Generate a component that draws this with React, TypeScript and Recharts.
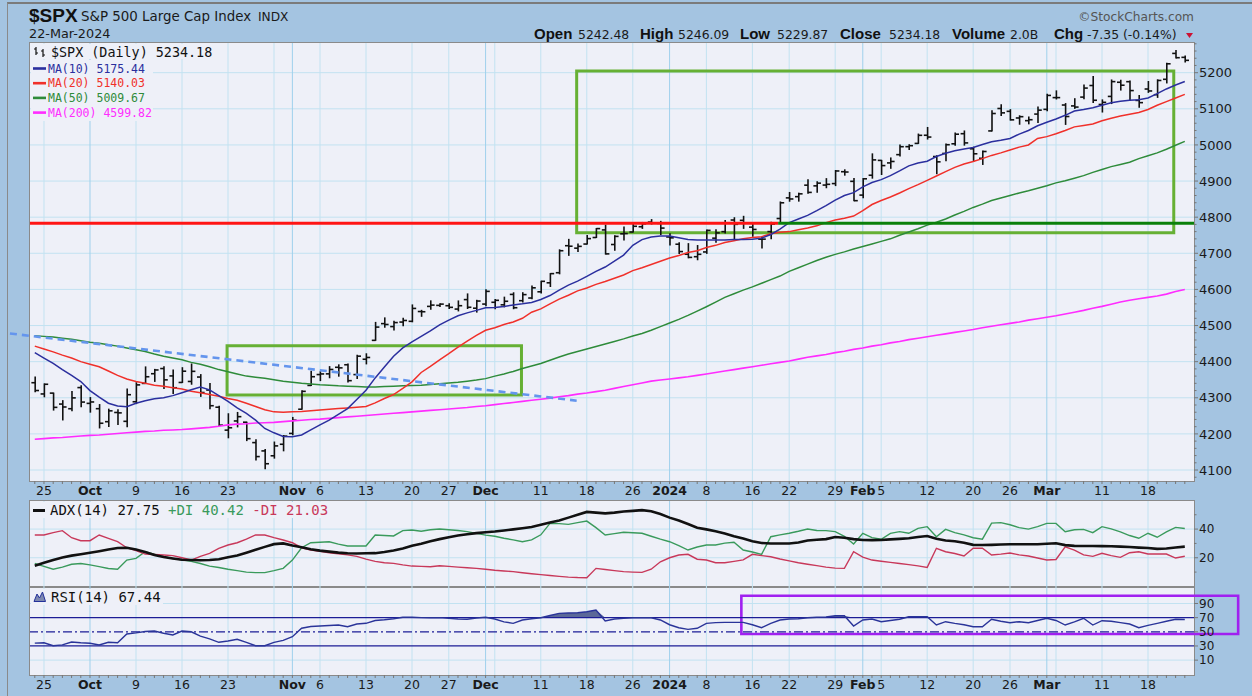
import React from 'react';
import {
  ComposedChart,
  Bar,
  Line,
  Area,
  XAxis,
  YAxis,
  CartesianGrid,
  ReferenceLine,
  ReferenceArea,
} from 'recharts';

// trading days per month
const sep2023 = [22, 25, 26, 27, 28, 29];
const oct2023 = [2, 3, 4, 5, 6, 9, 10, 11, 12, 13, 16, 17, 18, 19, 20, 23, 24, 25, 26, 27, 30, 31];
const nov2023 = [1, 2, 3, 6, 7, 8, 9, 10, 13, 14, 15, 16, 17, 20, 21, 22, 24, 27, 28, 29, 30];
const dec2023 = [1, 4, 5, 6, 7, 8, 11, 12, 13, 14, 15, 18, 19, 20, 21, 22, 26, 27, 28, 29];
const jan2024 = [2, 3, 4, 5, 8, 9, 10, 11, 12, 16, 17, 18, 19, 22, 23, 24, 25, 26, 29, 30, 31];
const feb2024 = [1, 2, 5, 6, 7, 8, 9, 12, 13, 14, 15, 16, 20, 21, 22, 23, 26, 27, 28, 29];
const mar2024 = [1, 4, 5, 6, 7, 8, 11, 12, 13, 14, 15, 18, 19, 20, 21, 22];

const months: [string, number[]][] = [
  ['2023-09', sep2023],
  ['2023-10', oct2023],
  ['2023-11', nov2023],
  ['2023-12', dec2023],
  ['2024-01', jan2024],
  ['2024-02', feb2024],
  ['2024-03', mar2024],
];
const dates = months.flatMap(([ym, days]) => days.map((d) => `${ym}-${String(d).padStart(2, '0')}`));

const xTickLabels: [string, string][] = [
  ['2023-09-25', '25'], ['2023-10-02', 'Oct'], ['2023-10-09', '9'], ['2023-10-16', '16'], ['2023-10-23', '23'],
  ['2023-11-01', 'Nov'], ['2023-11-06', '6'], ['2023-11-13', '13'], ['2023-11-20', '20'], ['2023-11-27', '27'],
  ['2023-12-01', 'Dec'], ['2023-12-11', '11'], ['2023-12-18', '18'], ['2023-12-26', '26'],
  ['2024-01-02', '2024'], ['2024-01-08', '8'], ['2024-01-16', '16'], ['2024-01-22', '22'], ['2024-01-29', '29'],
  ['2024-02-01', 'Feb'], ['2024-02-05', '5'], ['2024-02-12', '12'], ['2024-02-20', '20'], ['2024-02-26', '26'],
  ['2024-03-01', 'Mar'], ['2024-03-11', '11'], ['2024-03-18', '18'],
];

const openPx = [
  4341.7, 4310.6, 4312.9, 4282.6, 4269.7, 4328.2, 4284.5, 4269.8, 4233.8, 4259.3,
  4234.8, 4289.0, 4339.8, 4366.6, 4380.9, 4360.5, 4342.4, 4345.2, 4357.4, 4321.4,
  4273.9, 4210.4, 4235.8, 4232.4, 4175.9, 4152.9, 4139.4, 4171.3, 4201.3, 4268.3,
  4334.2, 4364.3, 4366.2, 4384.4, 4391.4, 4364.2, 4406.7, 4459.0, 4505.3, 4497.1,
  4509.6, 4511.7, 4538.8, 4553.0, 4555.8, 4554.9, 4545.6, 4571.8, 4548.0, 4559.4,
  4564.4, 4557.3, 4586.2, 4568.8, 4576.2, 4593.4, 4618.3, 4646.2, 4721.0, 4714.2,
  4725.6, 4743.7, 4764.7, 4724.3, 4753.9, 4758.9, 4773.5, 4786.4, 4782.9, 4745.2,
  4725.1, 4697.4, 4690.6, 4703.7, 4741.9, 4759.9, 4792.1, 4791.2, 4772.4, 4739.1,
  4760.1, 4796.3, 4853.4, 4856.8, 4888.6, 4886.7, 4888.9, 4893.0, 4925.9, 4899.2,
  4861.1, 4916.1, 4957.2, 4950.2, 4973.1, 4995.2, 5004.2, 5026.8, 4967.9, 4976.4,
  5003.1, 5031.1, 4989.3, 4963.0, 5038.8, 5100.9, 5093.0, 5074.6, 5067.2, 5085.4,
  5098.5, 5131.0, 5110.5, 5108.0, 5132.4, 5164.5, 5112.0, 5134.3, 5173.5, 5175.1,
  5123.3, 5154.8, 5139.1, 5181.7, 5253.4, 5242.5,
];
const highPx = [
  4357.4, 4338.5, 4313.0, 4292.1, 4317.3, 4333.1, 4300.6, 4281.2, 4268.5, 4267.1,
  4324.1, 4341.7, 4385.5, 4378.6, 4385.9, 4377.1, 4383.3, 4393.6, 4364.2, 4339.5,
  4276.6, 4255.8, 4259.4, 4232.4, 4183.6, 4156.7, 4177.5, 4195.6, 4245.6, 4319.7,
  4373.6, 4372.2, 4386.3, 4391.2, 4393.4, 4418.0, 4421.8, 4508.7, 4521.2, 4512.0,
  4520.1, 4557.1, 4542.1, 4568.4, 4560.3, 4560.5, 4568.1, 4587.6, 4569.9, 4599.4,
  4572.4, 4578.6, 4590.7, 4590.9, 4609.2, 4622.7, 4643.9, 4709.7, 4738.6, 4725.5,
  4749.5, 4768.7, 4778.0, 4748.7, 4772.9, 4784.7, 4785.4, 4793.3, 4788.4, 4754.3,
  4729.3, 4726.8, 4721.5, 4764.5, 4765.5, 4790.8, 4798.5, 4802.4, 4782.3, 4744.2,
  4785.8, 4842.1, 4868.4, 4866.5, 4903.7, 4898.1, 4906.7, 4929.3, 4931.1, 4906.8,
  4907.0, 4975.3, 4957.2, 4964.0, 4999.9, 5000.4, 5030.1, 5048.4, 4970.0, 5002.5,
  5032.7, 5038.7, 4993.7, 4983.2, 5094.4, 5111.1, 5097.7, 5080.7, 5077.4, 5105.0,
  5140.3, 5149.7, 5114.5, 5128.0, 5165.6, 5189.3, 5124.7, 5179.9, 5179.1, 5176.9,
  5136.9, 5175.6, 5180.3, 5226.2, 5261.1, 5246.1,
];
const lowPx = [
  4316.5, 4302.7, 4265.9, 4238.6, 4264.4, 4274.9, 4260.2, 4216.5, 4220.5, 4225.9,
  4219.6, 4283.8, 4339.6, 4345.3, 4325.4, 4311.9, 4342.4, 4337.5, 4303.8, 4269.7,
  4223.0, 4189.2, 4219.4, 4181.4, 4127.9, 4103.8, 4132.9, 4153.1, 4197.7, 4268.3,
  4334.2, 4347.5, 4355.4, 4359.8, 4343.9, 4353.3, 4393.8, 4459.0, 4495.3, 4487.8,
  4499.7, 4510.4, 4525.5, 4545.1, 4552.8, 4547.0, 4540.5, 4547.2, 4537.2, 4554.7,
  4546.7, 4551.7, 4546.5, 4565.2, 4574.1, 4590.3, 4608.1, 4643.2, 4694.3, 4704.7,
  4725.6, 4743.7, 4697.8, 4708.4, 4736.8, 4758.9, 4768.9, 4781.0, 4752.0, 4722.7,
  4699.7, 4687.5, 4682.1, 4699.8, 4730.4, 4756.2, 4739.6, 4769.0, 4747.1, 4714.8,
  4740.6, 4785.9, 4844.1, 4844.4, 4865.9, 4869.3, 4881.5, 4887.4, 4916.3, 4845.2,
  4853.5, 4908.0, 4918.1, 4935.3, 4969.3, 4987.1, 5004.2, 5016.3, 4920.3, 4956.5,
  4999.4, 4999.5, 4955.0, 4946.0, 5038.8, 5081.5, 5068.9, 5057.3, 5058.4, 5061.9,
  5094.4, 5127.2, 5056.8, 5101.2, 5128.2, 5117.5, 5091.1, 5114.5, 5151.9, 5123.3,
  5104.4, 5145.5, 5131.6, 5171.6, 5240.7, 5229.9,
];
const closePx = [
  4320.1, 4337.4, 4273.5, 4274.5, 4299.7, 4288.1, 4288.4, 4229.5, 4263.8, 4258.2,
  4308.5, 4335.7, 4358.2, 4377.0, 4349.6, 4327.8, 4373.6, 4373.2, 4314.6, 4278.0,
  4224.2, 4217.0, 4247.7, 4186.8, 4137.2, 4117.4, 4166.8, 4193.8, 4237.9, 4317.8,
  4358.3, 4366.0, 4378.4, 4382.8, 4347.4, 4415.2, 4411.6, 4495.7, 4502.9, 4508.2,
  4514.0, 4547.4, 4538.2, 4556.6, 4559.3, 4550.4, 4554.9, 4550.6, 4567.8, 4594.6,
  4569.8, 4567.2, 4549.3, 4585.6, 4604.4, 4622.4, 4643.7, 4707.1, 4719.6, 4719.2,
  4740.6, 4768.4, 4698.4, 4746.8, 4754.6, 4774.8, 4781.6, 4783.4, 4769.8, 4742.8,
  4704.8, 4688.7, 4697.2, 4763.5, 4756.5, 4783.5, 4780.2, 4783.8, 4766.0, 4739.2,
  4780.9, 4839.8, 4850.4, 4864.6, 4868.6, 4894.2, 4891.0, 4927.9, 4925.0, 4845.7,
  4906.2, 4958.6, 4942.8, 4954.2, 4995.1, 4997.9, 5026.6, 5021.8, 4953.2, 5000.6,
  5029.7, 5005.6, 4975.5, 4981.8, 5087.0, 5088.8, 5069.5, 5078.2, 5069.8, 5096.3,
  5137.1, 5131.0, 5078.7, 5104.8, 5157.4, 5123.7, 5117.9, 5175.3, 5165.3, 5150.5,
  5117.1, 5149.4, 5178.5, 5224.6, 5241.5, 5234.2,
];

const ma10 = [
  4425, 4410, 4395, 4378, 4362, 4345, 4320, 4302, 4285, 4277,
  4275, 4285, 4292, 4297, 4300, 4306, 4314, 4322, 4330, 4322,
  4306, 4290, 4272, 4257, 4238, 4215, 4203, 4193, 4192, 4197,
  4211, 4225, 4238, 4254, 4270, 4295, 4321, 4355, 4385, 4415,
  4438, 4455, 4470, 4485, 4502, 4515, 4527, 4535, 4542, 4549,
  4550, 4553, 4557, 4560, 4564, 4572, 4583, 4598, 4612, 4623,
  4636, 4650, 4662, 4678, 4695, 4722, 4738, 4745, 4748, 4748,
  4743, 4738, 4737, 4737, 4737, 4737, 4738, 4738, 4739, 4742,
  4752, 4767, 4785, 4795, 4805, 4818, 4832, 4847, 4860, 4868,
  4884, 4896, 4904, 4915, 4928, 4942, 4950, 4955, 4968, 4977,
  4984, 4989, 4993, 5001, 5009, 5013, 5018, 5030, 5040, 5053,
  5063, 5072, 5082, 5094, 5098, 5103, 5110, 5117, 5121, 5124,
  5125, 5130, 5142, 5155, 5166, 5175.4,
];
const ma20 = [
  4443, 4435, 4427, 4418, 4410, 4400, 4393, 4386, 4374, 4362,
  4352, 4345, 4340, 4335, 4332, 4328, 4324, 4318, 4314, 4309,
  4304, 4298, 4293, 4285, 4276, 4267, 4261, 4260, 4261, 4262,
  4264, 4266, 4268, 4270, 4272, 4274, 4276, 4286, 4298, 4309,
  4326, 4344, 4370, 4387, 4405, 4422, 4440, 4457, 4473, 4487,
  4494, 4503, 4510, 4520, 4537, 4546, 4560, 4573, 4584, 4596,
  4604, 4614, 4622, 4631, 4640, 4652, 4660, 4669, 4678, 4687,
  4694, 4702, 4707, 4716, 4722, 4730, 4735, 4740, 4744, 4746,
  4754, 4758, 4760, 4765, 4770, 4776, 4785, 4792, 4797, 4803,
  4818, 4835, 4846, 4856, 4867, 4879, 4890, 4902, 4914, 4926,
  4938, 4947, 4954, 4962, 4971, 4978, 4986, 4994, 5000, 5018,
  5023, 5031, 5040, 5050, 5054, 5058, 5067, 5074, 5080, 5085,
  5090, 5098, 5110, 5120, 5130, 5140.0,
];
const ma50 = [
  4472, 4470, 4468, 4465, 4462, 4458, 4454, 4451, 4447, 4443,
  4438, 4433, 4428, 4421, 4415, 4410, 4405, 4398, 4393, 4386,
  4378, 4372, 4366, 4360, 4357, 4354, 4350, 4346, 4343, 4340,
  4338, 4336, 4335, 4333, 4332, 4331, 4330, 4330, 4331, 4332,
  4333, 4334, 4335, 4337, 4339, 4341, 4343, 4346, 4349, 4353,
  4360, 4366, 4373, 4381, 4388, 4395, 4404, 4413, 4421, 4428,
  4435, 4442, 4449, 4456, 4463, 4471, 4478, 4487, 4497, 4507,
  4517, 4528, 4540, 4552, 4565, 4578, 4588, 4598, 4607, 4617,
  4627, 4637, 4650, 4660, 4670, 4680, 4689, 4697, 4704, 4712,
  4719, 4726, 4733, 4740, 4750, 4759, 4768, 4778, 4786, 4795,
  4806, 4816, 4827, 4836, 4846, 4853, 4860, 4867, 4873, 4880,
  4887, 4895, 4901, 4908, 4915, 4924, 4932, 4940, 4946, 4952,
  4962, 4970, 4978, 4988, 4999, 5009.7,
];
const ma200 = [
  4185, 4187, 4189, 4190, 4192, 4194, 4196, 4197, 4199, 4201,
  4203, 4205, 4207, 4208, 4210, 4211, 4212, 4214, 4216, 4218,
  4221, 4225, 4227, 4228, 4230, 4231, 4232, 4234, 4236, 4238,
  4240, 4241, 4243, 4245, 4247, 4249, 4251, 4253, 4255, 4257,
  4259, 4261, 4263, 4265, 4267, 4269, 4271, 4273, 4276, 4278,
  4281, 4284, 4287, 4290, 4293, 4296, 4299, 4303, 4306, 4310,
  4313, 4317, 4321, 4326, 4331, 4336, 4341, 4346, 4349, 4352,
  4355, 4358, 4362, 4366, 4370, 4374, 4378, 4382, 4386, 4390,
  4394, 4398, 4402, 4407, 4412, 4416, 4420, 4425, 4429, 4434,
  4438, 4443, 4447, 4452, 4456, 4461, 4465, 4469, 4473, 4477,
  4481, 4485, 4489, 4494, 4498, 4502, 4506, 4510, 4515, 4519,
  4523, 4527, 4532, 4537, 4542, 4548, 4553, 4559, 4565, 4570,
  4574, 4578, 4582, 4587, 4594, 4599.8,
];

const adx14 = [
  14.5, 16.5, 18.5, 20.2, 21.5, 22.5, 23.5, 24.6, 25.8, 26.8,
  27.0, 25.8, 24.0, 22.0, 20.5, 19.5, 18.6, 18.4, 18.3, 18.4,
  19.0, 20.3, 21.5, 23.5, 25.6, 27.6, 29.5, 30.0, 28.5, 27.3,
  26.0, 25.0, 24.3, 23.6, 23.1, 23.0, 23.1, 23.2, 24.0, 25.0,
  26.5, 28.4, 29.8, 31.5, 33.0, 34.3, 35.5, 36.4, 37.2, 37.8,
  38.3, 39.0, 39.8, 40.6, 41.5, 43.0, 44.6, 46.0, 48.0, 50.0,
  52.0, 51.5, 51.0, 51.5, 52.3, 52.7, 53.2, 52.5, 50.5, 48.0,
  46.0, 43.5, 41.0, 39.8, 38.5, 37.0, 35.0, 33.5, 31.5, 30.3,
  30.0, 30.0, 30.0, 30.6, 32.0, 32.6, 33.0, 34.5, 34.0, 33.0,
  32.4, 32.3, 32.4, 32.8, 33.2, 33.6, 34.5, 35.2, 33.3, 32.0,
  31.5, 30.5, 29.0, 28.9, 29.0, 29.2, 29.4, 29.4, 29.4, 29.4,
  29.8, 30.1, 28.8, 28.3, 28.2, 28.2, 28.1, 28.0, 27.8, 27.5,
  27.1, 26.8, 26.2, 26.5, 27.2, 27.75,
];
const plusDi = [
  16.0, 14.0, 12.0, 13.5, 15.5, 16.0, 15.0, 13.8, 12.5, 12.0,
  18.4, 19.6, 24.2, 22.5, 20.7, 19.5, 18.5, 17.5, 16.0, 14.2,
  13.2, 12.0, 11.0, 10.0, 9.6, 9.6, 11.0, 12.6, 18.4, 27.0,
  30.5, 30.8, 31.2, 29.5, 28.2, 28.2, 28.2, 35.9, 35.5, 35.2,
  38.9, 39.4, 38.5, 39.5, 40.1, 39.5, 39.0, 38.2, 37.0, 35.8,
  35.0, 33.6, 32.5, 31.2, 32.5, 36.0, 44.0, 43.8, 43.3, 44.5,
  45.6, 41.0, 35.9, 36.8, 37.8, 37.5, 37.1, 35.0, 33.0, 31.2,
  28.5, 25.4, 27.5, 28.9, 28.9, 30.2, 30.8, 25.4, 24.0, 22.4,
  34.7, 36.0, 37.1, 38.5, 40.1, 39.0, 38.9, 38.2, 35.0, 29.6,
  37.1, 34.0, 32.9, 37.0, 38.2, 37.1, 40.5, 41.7, 34.7, 39.8,
  37.5, 36.0, 34.0, 33.0, 44.2, 44.5, 43.0, 41.0, 40.0, 41.7,
  44.0, 44.0, 38.2, 39.5, 39.8, 37.5, 41.7, 40.2, 38.0, 35.5,
  33.6, 37.1, 34.3, 38.0, 41.2, 40.42,
];
const minusDi = [
  35.9, 35.9, 37.5, 38.9, 34.0, 31.9, 31.9, 35.9, 33.5, 31.2,
  27.0, 25.0, 22.6, 22.3, 21.9, 21.5, 20.0, 18.4, 21.0, 23.1,
  26.5, 28.9, 30.5, 33.0, 35.9, 35.9, 34.0, 32.4, 30.5, 27.0,
  25.4, 24.5, 23.5, 22.8, 22.0, 21.0, 19.0, 17.5, 16.5, 16.1,
  15.0, 14.2, 14.0, 13.7, 14.4, 14.0, 13.5, 13.0, 12.6, 12.0,
  11.3, 10.8, 10.3, 9.5, 8.8, 8.2, 7.6, 7.0, 6.5, 6.2,
  6.1, 12.6, 11.8, 11.0, 10.3, 10.0, 9.8, 12.0, 17.2, 20.0,
  21.9, 22.4, 19.0, 18.4, 16.5, 16.5, 17.5, 18.5, 22.4, 21.5,
  20.7, 19.1, 17.8, 16.5, 15.5, 14.5, 13.5, 12.8, 12.6, 24.2,
  20.5, 18.4, 17.6, 16.8, 16.0, 15.2, 14.3, 13.3, 26.6, 24.2,
  23.0, 21.2, 26.6, 26.6, 21.9, 22.5, 23.3, 22.0, 21.2, 19.8,
  18.4, 18.8, 27.7, 25.4, 22.0, 21.0, 23.1, 21.5, 20.3, 23.5,
  24.2, 22.6, 22.6, 22.6, 19.8, 21.03,
];
const rsi14 = [
  34.0, 34.6, 30.4, 31.5, 35.6, 34.5, 33.8, 31.4, 35.2, 34.5,
  46.9, 48.5, 50.5, 51.1, 48.0, 45.5, 51.1, 50.1, 44.0, 40.0,
  35.2, 37.0, 39.4, 35.0, 30.4, 30.4, 35.0, 38.0, 43.1, 55.0,
  57.5, 58.2, 59.0, 59.6, 57.2, 61.0, 62.0, 66.0, 67.0, 68.5,
  70.5, 70.5, 70.0, 69.9, 70.0, 69.0, 68.0, 67.7, 69.5, 70.5,
  68.1, 64.0, 62.0, 66.7, 68.5, 69.9, 73.0, 76.1, 76.5, 77.0,
  78.4, 80.8, 65.3, 68.1, 69.0, 69.9, 69.9, 69.9, 66.7, 60.0,
  55.8, 53.5, 55.0, 62.0, 63.0, 63.4, 63.4, 63.4, 60.0, 55.8,
  62.0, 66.7, 68.1, 68.5, 69.9, 70.5, 71.0, 72.7, 72.7, 58.2,
  66.7, 68.0, 64.3, 66.0, 67.7, 71.3, 71.3, 71.3, 59.6, 64.3,
  62.0, 60.0, 57.2, 57.2, 67.7, 65.0, 62.9, 64.3, 62.9, 66.0,
  69.1, 66.0, 59.6, 64.0, 69.1, 59.6, 65.7, 65.0, 63.0, 61.0,
  55.8, 59.0, 62.0, 65.0, 67.7, 67.44,
];

const priceTicks = [4100, 4200, 4300, 4400, 4500, 4600, 4700, 4800, 4900, 5000, 5100, 5200];
const adxTicks = [20, 40];
const rsiTicks = [10, 30, 50, 70, 90];

// hand-drawn annotations, in (bar index, value) units
const resistanceLevel = 4783;
const resistanceSwitch = 80.8; // red turns green here
const trendLine = [{ x: -2.7, y: 4478 }, { x: 58.9, y: 4292 }];
const bigBox = { x1: 58.9, x2: 123.8, y1: 4757, y2: 5205 };
const smallBox = { x1: 20.9, x2: 52.9, y1: 4308, y2: 4444 };
const rsiBox = { x1: 76.8, x2: 130.8, y1: 46.9, y2: 101 };

const rows = dates.map((date, i) => ({
  i,
  date,
  open: openPx[i],
  high: highPx[i],
  low: lowPx[i],
  close: closePx[i],
  ma10: ma10[i],
  ma20: ma20[i],
  ma50: ma50[i],
  ma200: ma200[i],
  adx: adx14[i],
  pdi: plusDi[i],
  mdi: minusDi[i],
  rsi: rsi14[i],
}));

// layout
const W = 1252;
const H = 696;
const PLOT_L = 30;
const PLOT_R = 1194;
const AXIS_W = W - PLOT_R;
const X_DOMAIN: [number, number] = [-0.52, 126];
const BG = '#a4c4e1';
const PLOT_BG = '#eef0f8';
const GRID = '#c2e2f1';
const GRID_MONTH = '#9fd0ec';
const SANS = '"DejaVu Sans", Verdana, sans-serif';
const MONO = '"DejaVu Sans Mono", monospace';

const dow = (d: string) => new Date(d + 'T00:00:00Z').getUTCDay();
const isMonthStart = (i: number) => i > 0 && dates[i].slice(0, 7) !== dates[i - 1].slice(0, 7);
const isWeekStart = (i: number) => i > 0 && dow(dates[i]) <= dow(dates[i - 1]);
const allIdx = dates.map((_, i) => i);
const gridIdx = allIdx.filter((i) => isWeekStart(i) || isMonthStart(i));
const labelAt = new Map<number, string>(xTickLabels.map(([d, l]) => [dates.indexOf(d), l]));

const priceMinor: number[] = [];
for (let v = 4080; v <= 5280; v += 20) priceMinor.push(v);

const hLine = (p: any) => (
  <line key={p.key} x1={p.x1} x2={p.x2} y1={p.y1} y2={p.y2} stroke={GRID} strokeWidth={1} />
);
const vLine = (p: any) => (
  <line
    key={p.key}
    x1={p.x1}
    x2={p.x2}
    y1={p.y1}
    y2={p.y2}
    stroke={isMonthStart(gridIdx[p.index]) ? GRID_MONTH : GRID}
    strokeWidth={1}
  />
);

const XTick = (props: any) => {
  const { x, y, payload } = props;
  const i = payload.value;
  const label = labelAt.get(i);
  return (
    <g>
      <line x1={x} x2={x} y1={y} y2={y + 3} stroke="#777" strokeWidth={1} />
      {label ? (
        <text
          x={x}
          y={y + 14}
          textAnchor="middle"
          fontFamily={SANS}
          fontSize={12.5}
          fontWeight={isMonthStart(i) ? 'bold' : 'normal'}
          fill="#1a1a1a"
        >
          {label}
        </text>
      ) : null}
    </g>
  );
};

const makeYTick = (labels: number[], fontSize: number) => (props: any) => {
  const { x, y, payload } = props;
  const major = labels.includes(payload.value);
  return (
    <g>
      <line x1={x} x2={x + (major ? 4 : 2.5)} y1={y} y2={y} stroke="#777" strokeWidth={1} />
      {major ? (
        <text x={x + 5} y={y + fontSize * 0.36} fontFamily={SANS} fontSize={fontSize} fill="#1a1a1a">
          {payload.value}
        </text>
      ) : null}
    </g>
  );
};
const PriceTick = makeYTick(priceTicks, 13);
const AdxTick = makeYTick(adxTicks, 12);
const RsiTick = makeYTick(rsiTicks, 12);

const OhlcBar = (props: any) => {
  const { x, y, width, height, payload } = props;
  if (x == null || y == null || !payload) return null;
  const top = Math.min(y, y + height);
  const bot = Math.max(y, y + height);
  const span = payload.high - payload.low || 1;
  const toY = (v: number) => top + ((payload.high - v) / span) * (bot - top);
  const cx = x + width / 2;
  const yo = toY(payload.open);
  const yc = toY(payload.close);
  return (
    <g stroke="#111" strokeWidth={1.6}>
      <line x1={cx} x2={cx} y1={top - 0.5} y2={bot + 0.5} />
      <line x1={cx - 3.8} x2={cx} y1={yo} y2={yo} />
      <line x1={cx} x2={cx + 3.8} y1={yc} y2={yc} />
    </g>
  );
};

const xAxisCommon = {
  dataKey: 'i',
  type: 'number' as const,
  domain: X_DOMAIN,
  allowDataOverflow: true,
  ticks: allIdx,
  interval: 0 as const,
  axisLine: false,
  tickLine: false,
  tickSize: 0,
  tickMargin: 0,
};

const panel = (top: number, height: number): React.CSSProperties => ({
  position: 'absolute',
  left: PLOT_L - 1,
  top,
  width: PLOT_R - PLOT_L + 2,
  height,
  boxSizing: 'border-box',
  border: '1px solid #8a8a8a',
  background: PLOT_BG,
});

const layer = (top: number): React.CSSProperties => ({ position: 'absolute', left: 0, top });

export default function App() {
  return (
    <div
      style={{
        position: 'absolute',
        left: 0,
        top: 0,
        width: W,
        height: H,
        background: BG,
        overflow: 'hidden',
      }}
    >
      <div
        style={{
          position: 'absolute',
          left: 7,
          top: 2,
          width: W - 7,
          height: H - 2,
          borderTop: '2px solid #7b7b7b',
          borderLeft: '1px solid #8a8a8a',
          boxSizing: 'border-box',
        }}
      />
      <div style={panel(42, 440)} />
      <div style={panel(500, 88)} />
      <div style={{ ...panel(586, 90), borderTopWidth: 2 }} />

      {/* price panel */}
      <div style={layer(0)}>
        <ComposedChart width={W} height={500} data={rows} margin={{ top: 43, right: 0, bottom: 0, left: PLOT_L }}>
          <CartesianGrid horizontalValues={priceTicks} verticalValues={gridIdx} horizontal={hLine} vertical={vLine} />
          <XAxis {...xAxisCommon} height={19} tick={<XTick />} />
          <YAxis
            orientation="right"
            width={AXIS_W}
            domain={[4069.6, 5282.2]}
            allowDataOverflow
            ticks={priceMinor}
            interval={0}
            tick={<PriceTick />}
            axisLine={false}
            tickLine={false}
            tickSize={0}
            tickMargin={0}
          />
          <Line type="linear" dataKey="ma200" stroke="#ff2cff" strokeWidth={1.6} dot={false} isAnimationActive={false} />
          <Line type="linear" dataKey="ma50" stroke="#2e8b3a" strokeWidth={1.5} dot={false} isAnimationActive={false} />
          <Line type="linear" dataKey="ma20" stroke="#f0302a" strokeWidth={1.5} dot={false} isAnimationActive={false} />
          <Line type="linear" dataKey="ma10" stroke="#2b2f9e" strokeWidth={1.5} dot={false} isAnimationActive={false} />
          <Bar dataKey={(d: any) => [d.low, d.high]} barSize={8} shape={<OhlcBar />} isAnimationActive={false} />
          <ReferenceLine
            segment={[{ x: X_DOMAIN[0], y: resistanceLevel }, { x: resistanceSwitch, y: resistanceLevel }]}
            stroke="#ff1414"
            strokeWidth={3}
            ifOverflow="visible"
          />
          <ReferenceLine
            segment={[{ x: resistanceSwitch, y: resistanceLevel }, { x: X_DOMAIN[1], y: resistanceLevel }]}
            stroke="#0a800a"
            strokeWidth={3}
            ifOverflow="visible"
          />
          <ReferenceArea
            x1={smallBox.x1}
            x2={smallBox.x2}
            y1={smallBox.y1}
            y2={smallBox.y2}
            fill="none"
            fillOpacity={0}
            stroke="#66b034"
            strokeWidth={3}
            ifOverflow="visible"
          />
          <ReferenceArea
            x1={bigBox.x1}
            x2={bigBox.x2}
            y1={bigBox.y1}
            y2={bigBox.y2}
            fill="none"
            fillOpacity={0}
            stroke="#66b034"
            strokeWidth={3}
            ifOverflow="visible"
          />
          <ReferenceLine
            segment={trendLine}
            stroke="#6495ed"
            strokeWidth={2.6}
            strokeDasharray="7 5"
            ifOverflow="visible"
          />
        </ComposedChart>
      </div>

      {/* ADX panel */}
      <div style={layer(500)}>
        <ComposedChart width={W} height={87} data={rows} margin={{ top: 1, right: 0, bottom: 0, left: PLOT_L }}>
          <CartesianGrid horizontalValues={adxTicks} verticalValues={gridIdx} horizontal={hLine} vertical={vLine} />
          <XAxis {...xAxisCommon} hide />
          <YAxis
            orientation="right"
            width={AXIS_W}
            domain={[-0.4, 59.6]}
            allowDataOverflow
            ticks={[10, 20, 30, 40, 50]}
            interval={0}
            tick={<AdxTick />}
            axisLine={false}
            tickLine={false}
            tickSize={0}
            tickMargin={0}
          />
          <Line type="linear" dataKey="pdi" stroke="#3a9a5c" strokeWidth={1.4} dot={false} isAnimationActive={false} />
          <Line type="linear" dataKey="mdi" stroke="#c8385a" strokeWidth={1.4} dot={false} isAnimationActive={false} />
          <Line type="linear" dataKey="adx" stroke="#111" strokeWidth={2.6} dot={false} isAnimationActive={false} />
        </ComposedChart>
      </div>

      {/* RSI panel */}
      <div style={layer(587)}>
        <ComposedChart width={W} height={109} data={rows} margin={{ top: 0, right: 0, bottom: 0, left: PLOT_L }}>
          <CartesianGrid horizontalValues={[10, 90]} verticalValues={gridIdx} horizontal={hLine} vertical={vLine} />
          <XAxis {...xAxisCommon} height={21} tick={<XTick />} />
          <YAxis
            orientation="right"
            width={AXIS_W}
            domain={[-11, 113.3]}
            allowDataOverflow
            ticks={rsiTicks}
            interval={0}
            tick={<RsiTick />}
            axisLine={false}
            tickLine={false}
            tickSize={0}
            tickMargin={0}
          />
          <ReferenceLine y={70} stroke="#1c1c96" strokeWidth={1.3} />
          <ReferenceLine y={30} stroke="#1c1c96" strokeWidth={1.3} />
          <ReferenceLine y={50} stroke="#1c1c96" strokeWidth={1.3} strokeDasharray="9 3 2 3" />
          <Area
            type="linear"
            dataKey={(d: any) => [70, Math.max(70, d.rsi)]}
            fill="#5b6898"
            fillOpacity={1}
            stroke="none"
            isAnimationActive={false}
          />
          <Line type="linear" dataKey="rsi" stroke="#2a3499" strokeWidth={1.4} dot={false} isAnimationActive={false} />
          <ReferenceArea
            x1={rsiBox.x1}
            x2={rsiBox.x2}
            y1={rsiBox.y1}
            y2={rsiBox.y2}
            fill="none"
            fillOpacity={0}
            stroke="#a020f0"
            strokeWidth={2.6}
            ifOverflow="visible"
          />
        </ComposedChart>
      </div>

      {/* titles and legends */}
      <svg width={W} height={H} style={{ position: 'absolute', left: 0, top: 0, pointerEvents: 'none' }}>
        <text x={29} y={21.5} fontFamily='"Liberation Sans", Arial, sans-serif' fontWeight="bold" fontSize={19} fill="#111">
          $SPX
        </text>
        <text x={81} y={21} fontFamily={SANS} fontSize={13.4} fill="#1a1a1a">
          {'S&P 500 Large Cap Index'}
        </text>
        <text x={258} y={21} fontFamily={SANS} fontSize={12.2} fill="#1a1a1a">
          INDX
        </text>
        <text x={29} y={37.5} fontFamily={SANS} fontSize={12.8} fill="#1a1a1a">
          22-Mar-2024
        </text>
        <text x={1194} y={20.5} textAnchor="end" fontFamily={SANS} fontSize={12.2} fill="#555">
          {'\u00A9StockCharts.com'}
        </text>
        {[
          [534, 'Open', 578, '5242.48'],
          [640, 'High', 678, '5246.09'],
          [740, 'Low', 777, '5229.87'],
          [840, 'Close', 889, '5234.18'],
          [952, 'Volume', 1010, '2.0B'],
          [1054, 'Chg', 1087, '-7.35 (-0.14%)'],
        ].map(([lx, l, vx, v]) => (
          <g key={l as string}>
            <text x={lx as number} y={39} fontFamily='"Liberation Sans", Arial, sans-serif' fontWeight="bold" fontSize={15} fill="#111">
              {l}
            </text>
            <text x={vx as number} y={39} fontFamily={SANS} fontSize={12.4} fill="#1a1a1a">
              {v}
            </text>
          </g>
        ))}
        <path d="M1186,33 L1193,33 L1189.5,38 Z" fill="#cc1133" />

        {/* price legend */}
        <rect x={31} y={44} width={184} height={15} fill={PLOT_BG} />
        <rect x={31} y={60} width={122} height={61} fill={PLOT_BG} />
        <g stroke="#111" strokeWidth={1.2}>
          <line x1={36} x2={36} y1={47} y2={55} />
          <line x1={34} x2={36} y1={49} y2={49} />
          <line x1={36} x2={38} y1={53} y2={53} />
          <line x1={43} x2={43} y1={49} y2={57} />
          <line x1={41} x2={43} y1={51} y2={51} />
          <line x1={43} x2={45} y1={55} y2={55} />
        </g>
        <text x={51} y={56.5} fontFamily={MONO} fontSize={13.4} fill="#111">
          $SPX (Daily) 5234.18
        </text>
        {[
          ['MA(10) 5175.44', '#2b2f9e', 72.7],
          ['MA(20) 5140.03', '#f0302a', 87.4],
          ['MA(50) 5009.67', '#2e8b3a', 102.1],
          ['MA(200) 4599.82', '#ff2cff', 116.8],
        ].map(([t, c, y]) => (
          <g key={t as string}>
            <rect x={33} y={(y as number) - 5.5} width={13} height={2.6} fill={c as string} />
            <text x={48} y={y as number} fontFamily={MONO} fontSize={11.5} fill={c as string}>
              {t}
            </text>
          </g>
        ))}

        {/* ADX legend */}
        <rect x={31} y={502} width={300} height={16} fill={PLOT_BG} />
        <rect x={33} y={509} width={12} height={3} fill="#111" />
        <text x={50} y={515} fontFamily={MONO} fontSize={14}>
          <tspan fill="#111">ADX(14) 27.75 </tspan>
          <tspan fill="#3a9a5c">+DI 40.42 </tspan>
          <tspan fill="#c8385a">-DI 21.03</tspan>
        </text>

        {/* RSI legend */}
        <rect x={31} y={589} width={132} height={16} fill={PLOT_BG} />
        <path d="M34,601.5 L37,594 L39.5,598 L42.5,592 L45.5,601.5 Z" fill="#7d88b0" stroke="#22309a" strokeWidth={1} />
        <text x={51} y={601.5} fontFamily={MONO} fontSize={14} fill="#111">
          RSI(14) 67.44
        </text>
      </svg>
    </div>
  );
}
